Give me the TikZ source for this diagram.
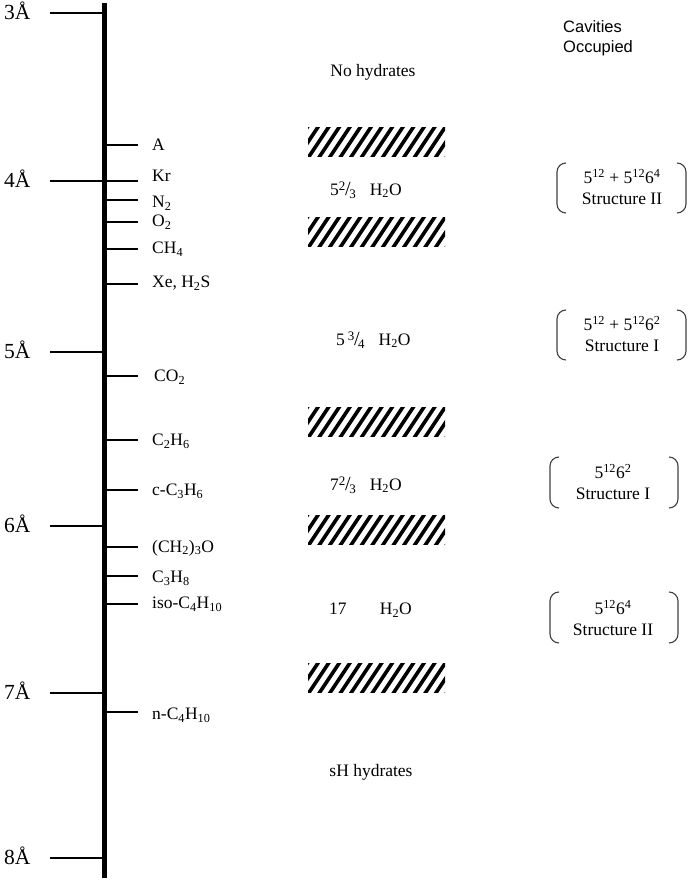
\documentclass[tikz,border=0pt]{standalone}
\usepackage{fontspec}
\setmainfont{Liberation Serif}
\newfontfamily\cavsans{Liberation Sans}
\newcommand{\myfr}[2]{{\raisebox{0.62ex}{\fontsize{13}{13}\selectfont #1}\kern-0.02em{\fontsize{20}{20}\selectfont /}\kern-0.08em\raisebox{-0.4ex}{\fontsize{13}{13}\selectfont #2}}}
\tikzset{
  axisline/.style={line width=5pt},
  majortick/.style={line width=2.8pt},
  minortick/.style={line width=2.5pt},
  majorlab/.style={font=\fontsize{21.5}{22}\selectfont, anchor=west, inner sep=0pt},
  minorlab/.style={font=\fontsize{17.5}{18}\selectfont, anchor=west, inner sep=0pt},
  midlab/.style={font=\fontsize{17.5}{18}\selectfont, inner sep=0pt},
  cavlab/.style={font=\fontsize{17.5}{20.5}\selectfont, align=center, inner sep=0pt},
  brack/.style={line width=1.1pt, draw=black!75},
  hatch/.style={line width=3.6pt, line cap=butt}
}
\newcommand{\hatchbar}[1]{%
  \begin{scope}
    \clip (308,#1) rectangle (445,#1+29);
    \foreach \i in {-3,...,14} \draw[hatch] (308+\i*10.6,#1+31) -- ++(22,-33);
  \end{scope}}
\newcommand{\brackets}[4]{% left x, right x, top, bottom
  \draw[brack] (#1+9,#3) to[out=180,in=90] (#1,#3+9) -- (#1,#4-9) to[out=-90,in=180] (#1+9,#4);
  \draw[brack] (#2-9,#3) to[out=0,in=90] (#2,#3+9) -- (#2,#4-9) to[out=-90,in=0] (#2-9,#4);}
\begin{document}
\begin{tikzpicture}[x=1pt,y=-1pt]
\useasboundingbox (0,0) rectangle (688,881);
% axis
\coordinate (atop) at (104,3);
\coordinate (abot) at (104,878);
\draw[axisline] (atop) -- (abot);
% major ticks
\foreach \v/\yy in {3/13,4/181,5/352,6/526,7/693,8/858}{
  \coordinate (M\v) at (104,\yy);
  \coordinate (ML\v) at (50,\yy);
  \draw[majortick] (ML\v) -- (M\v);
  \node[majorlab] (lab\v) at (4,\yy-2) {\v Å};
}
% minor ticks
\foreach \n/\yy in {a/145,kr/181,nn/200,oo/222,ch/249,xe/284,co/376,ce/440,cc/490,ch2/547,cp/576,iso/604,nb/712}{
  \coordinate (t\n) at (104,\yy);
  \coordinate (te\n) at (138,\yy);
  \draw[minortick] (t\n) -- (te\n);
}
\node[minorlab] (la) at (152,145) {A};
\node[minorlab] (lkr) at (152,176) {Kr};
\node[minorlab] (lnn) at (152,203) {N\textsubscript{2}};
\node[minorlab] (loo) at (152,222) {O\textsubscript{2}};
\node[minorlab] (lch) at (152,249) {CH\textsubscript{4}};
\node[minorlab] (lxe) at (152,283) {Xe, H\textsubscript{2}S};
\node[minorlab] (lco) at (154,377) {CO\textsubscript{2}};
\node[minorlab] (lce) at (152,441) {C\textsubscript{2}H\textsubscript{6}};
\node[minorlab] (lcc) at (152,491) {c-C\textsubscript{3}H\textsubscript{6}};
\node[minorlab] (lch2) at (152,548) {(CH\textsubscript{2})\textsubscript{3}O};
\node[minorlab] (lcp) at (152,578) {C\textsubscript{3}H\textsubscript{8}};
\node[minorlab] (liso) at (152,604) {iso-C\textsubscript{4}H\textsubscript{10}};
\node[minorlab] (lnb) at (152,715) {n-C\textsubscript{4}H\textsubscript{10}};
% middle column
\node[midlab] (nohyd) at (373,72) {No hydrates};
\hatchbar{127}
\node[midlab, anchor=west] (w1) at (330,190) {5\myfr{2}{3}\hspace{0.8em}H\textsubscript{2}O};
\hatchbar{217}
\node[midlab, anchor=west] (w2) at (336,340) {5\,\myfr{3}{4}\hspace{0.8em}H\textsubscript{2}O};
\hatchbar{407}
\node[midlab, anchor=west] (w3) at (330,485) {7\myfr{2}{3}\hspace{0.8em}H\textsubscript{2}O};
\hatchbar{515}
\node[midlab, anchor=west] (w4) at (329,610) {17\hspace{1.9em}H\textsubscript{2}O};
\hatchbar{663}
\node[midlab] (shyd) at (371,772) {sH hydrates};
% right column
\node[font=\cavsans\fontsize{16.5}{20}\selectfont, align=left, anchor=west, inner sep=0pt] (cav) at (563,38) {Cavities\\Occupied};
\brackets{557}{686}{163}{213}
\node[cavlab] (c1) at (622,187) {5\textsuperscript{12} + 5\textsuperscript{12}6\textsuperscript{4}\\Structure II};
\brackets{557}{686}{310}{360}
\node[cavlab] (c2) at (622,334) {5\textsuperscript{12} + 5\textsuperscript{12}6\textsuperscript{2}\\Structure I};
\brackets{550}{678}{457}{508}
\node[cavlab] (c3) at (613,482) {5\textsuperscript{12}6\textsuperscript{2}\\Structure I};
\brackets{550}{678}{592}{643}
\node[cavlab] (c4) at (613,618) {5\textsuperscript{12}6\textsuperscript{4}\\Structure II};
\end{tikzpicture}
\end{document}
